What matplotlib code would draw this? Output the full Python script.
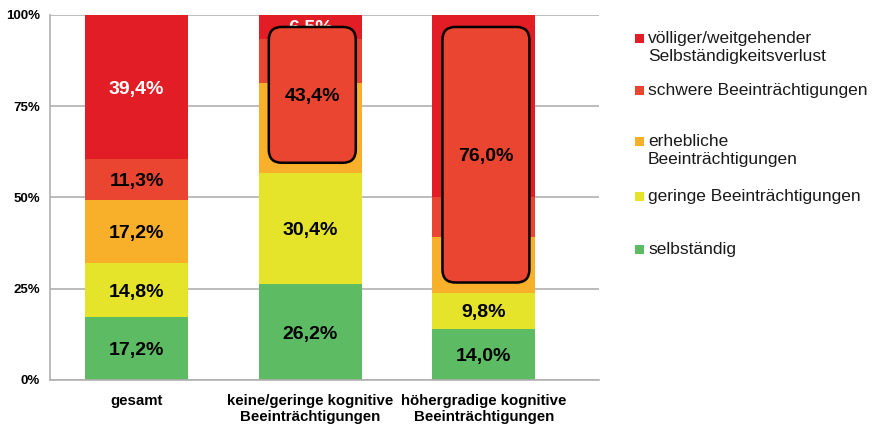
import numpy as np
import matplotlib
matplotlib.use('Agg')
import matplotlib.pyplot as plt
from matplotlib.patches import FancyBboxPatch, Rectangle

plt.rcParams['font.family'] = ['Liberation Sans', 'DejaVu Sans']

# categories and stacked shares (%), bottom to top
categories = ['gesamt', 'keine/geringe kognitive\nBeeinträchtigungen',
              'höhergradige kognitive\nBeeinträchtigungen']
series_names = ['selbständig', 'geringe Beeinträchtigungen',
                'erhebliche\nBeeinträchtigungen', 'schwere Beeinträchtigungen',
                'völliger/weitgehender\nSelbständigkeitsverlust']
selbstaendig = [17.2, 26.2, 14.0]
geringe = [14.8, 30.4, 9.8]
erhebliche = [17.2, 24.8, 15.4]
schwere = [11.3, 12.1, 11.0]
voelliger = [39.4, 6.5, 49.8]

# labels shown in the segments ('' = hidden under box)
seg_labels = [
    ['17,2%', '26,2%', '14,0%'],
    ['14,8%', '30,4%', '9,8%'],
    ['17,2%', '', ''],
    ['11,3%', '', ''],
    ['39,4%', '6,5%', ''],
]
# combined shares (everything above "geringe") for the highlighted boxes
box_cats = [1, 2]
box_labels = ['43,4%', '76,0%']

colors = ['#5dbb63', '#e5e32a', '#f8b02b', '#ea4530', '#e21d25']
label_colors = ['black', 'black', 'black', 'black', 'white']
yticks = [0, 25, 50, 75, 100]
ytick_labels = ['0%', '25%', '50%', '75%', '100%']

fig = plt.figure(figsize=(8.75, 4.26), dpi=100)
ax = fig.add_axes([0.057, 0.108, 0.627, 0.857])

x = np.arange(len(categories))
width = 0.594
data = [selbstaendig, geringe, erhebliche, schwere, voelliger]
bottom = np.zeros(len(categories))
for vals, col, labs, lc in zip(data, colors, seg_labels, label_colors):
    vals = np.array(vals)
    ax.bar(x, vals, width, bottom=bottom, color=col, zorder=2)
    for xi, b, v, lab in zip(x, bottom, vals, labs):
        if lab:
            ax.text(xi, b + v / 2, lab, ha='center', va='center_baseline',
                    fontsize=14, fontweight='bold', color=lc, zorder=3)
    bottom += vals

# rounded highlight boxes
low = np.array(selbstaendig) + np.array(geringe)
asp = (1 / 3.65) / (1 / 173.5)
for ci, lab in zip(box_cats, box_labels):
    y0 = low[ci] + 2.9
    y1 = 100 - 3.3
    x0 = x[ci] - width / 2 + 0.058
    x1 = x[ci] + width / 2 - 0.035
    box = FancyBboxPatch((x0, y0), x1 - x0, y1 - y0,
                         boxstyle='round,pad=0,rounding_size=0.075',
                         mutation_aspect=asp, facecolor='#ea4530',
                         edgecolor='black', linewidth=1.8, zorder=4)
    ax.add_patch(box)
    ax.text((x0 + x1) / 2, (y0 + y1) / 2, lab, ha='center',
            va='center_baseline', fontsize=14, fontweight='bold',
            color='black', zorder=5)

ax.set_xlim(-0.5, 2.66)
ax.set_ylim(0, 100)
ax.set_yticks(yticks)
ax.set_yticklabels(ytick_labels, fontsize=9.5, fontweight='bold')
ax.set_xticks(x)
ax.set_xticklabels(categories, fontsize=10.8, fontweight='bold',
                   linespacing=1.2)
ax.tick_params(axis='both', length=0)
ax.tick_params(axis='y', pad=7)
ax.tick_params(axis='x', pad=10)
ax.yaxis.grid(True, color='#b0b0b0', linewidth=1.2, zorder=0)
ax.set_axisbelow(True)
for s in ['top', 'right']:
    ax.spines[s].set_visible(False)
ax.spines['left'].set_color('#b0b0b0')
ax.spines['bottom'].set_color('#b0b0b0')
ax.spines['left'].set_linewidth(1.2)
ax.spines['bottom'].set_linewidth(1.2)

# legend drawn manually (top to bottom)
W, H = 875, 426
leg_rows = [38, 90, 141, 196, 249]
for name, col, yc in zip(series_names[::-1], colors[::-1], leg_rows):
    fig.patches.append(Rectangle((635 / W, 1 - (yc + 4.5) / H), 9 / W, 9 / H,
                                 transform=fig.transFigure, facecolor=col,
                                 edgecolor='none'))
    fig.text(648 / W, 1 - (yc - 7) / H, name, fontsize=12.5, va='top',
             ha='left', linespacing=1.22, color='#1a1a1a')

fig.savefig('out.png', dpi=100)
